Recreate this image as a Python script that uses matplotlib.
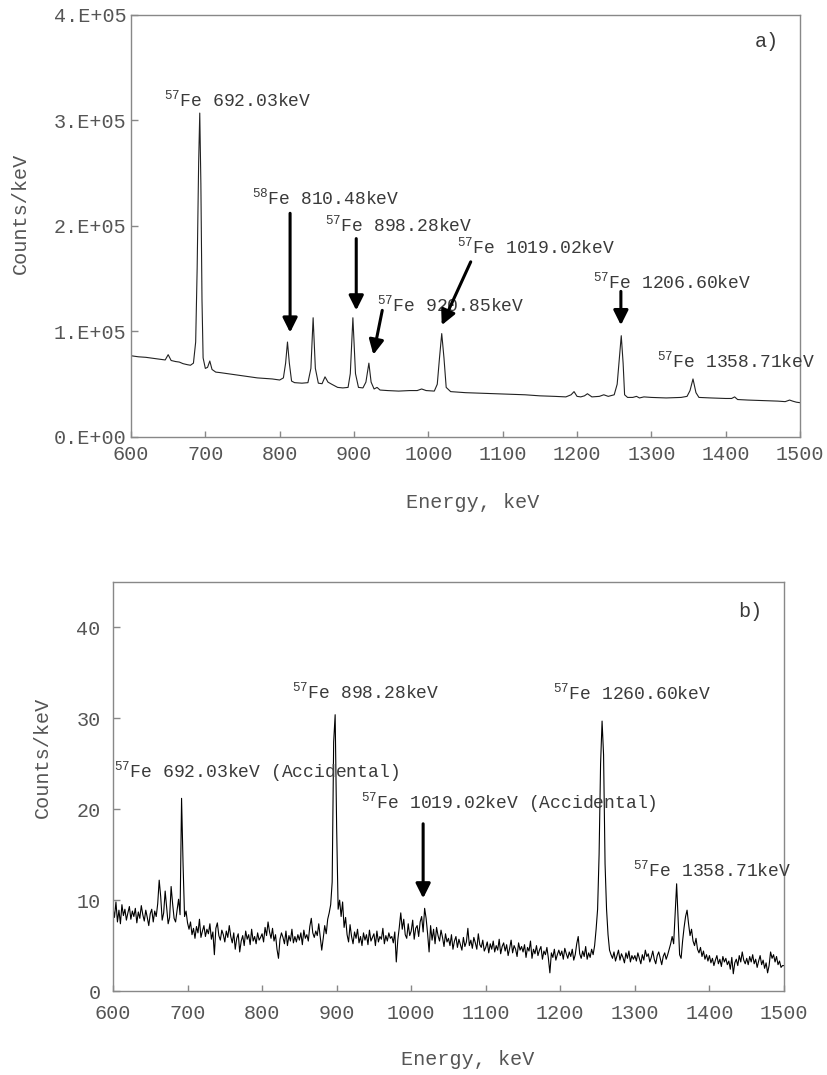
import numpy as np
import matplotlib
matplotlib.use("Agg")
import matplotlib.pyplot as plt

plt.rcParams['font.family'] = ['Liberation Mono', 'DejaVu Sans']
plt.rcParams['mathtext.fontset'] = 'custom'
plt.rcParams['mathtext.rm'] = 'Liberation Sans'

# ---- panel a: singles spectrum (energy keV, counts/keV) ----
a_energy = [600, 610, 620, 630, 640, 646, 650, 654, 660, 665, 670, 676, 680, 684, 687, 689, 691, 692.5,
            694, 695.5, 697, 700, 703, 706, 709, 714, 720, 730, 740, 750, 760, 770, 780, 790, 800, 805,
            808, 810.5, 813, 816, 820, 830, 838, 842, 845, 848, 852, 857, 861, 865, 870, 878, 885, 892,
            895, 898.5, 902, 906, 912, 916, 920, 923, 927, 931, 935, 945, 960, 975, 985, 991, 997, 1008,
            1012, 1015, 1018, 1021, 1024, 1030, 1050, 1070, 1090, 1110, 1130, 1150, 1170, 1185, 1192,
            1196, 1200, 1205, 1210, 1214, 1220, 1230, 1236, 1242, 1250, 1254, 1257, 1259.5, 1262, 1264,
            1268, 1275, 1280, 1284, 1290, 1300, 1320, 1340, 1348, 1352, 1356, 1360, 1364, 1380, 1400,
            1408, 1412, 1416, 1430, 1450, 1470, 1480, 1486, 1490, 1495, 1500]
a_counts = [77000, 76000, 75500, 74500, 73500, 73000, 78000, 72500, 71500, 71000, 69500, 68500, 68000,
            70000, 90000, 160000, 260000, 307000, 240000, 130000, 75000, 65000, 66000, 72000, 64000,
            61500, 61000, 60000, 59000, 58000, 57000, 56000, 55500, 55000, 54000, 56000, 70000, 90000,
            70000, 53000, 51500, 51000, 51500, 65000, 113000, 65000, 51000, 50500, 57000, 52000, 50000,
            47000, 46500, 47000, 60000, 113000, 60000, 47000, 46500, 52000, 70000, 52000, 45500, 47000,
            44500, 44000, 43500, 44000, 44000, 45500, 44000, 43500, 50000, 75000, 98000, 75000, 47000,
            43000, 42000, 41500, 41000, 40500, 40000, 39000, 38500, 38000, 40000, 43000, 38500, 38000,
            39000, 41000, 38000, 38500, 40000, 38500, 40000, 50000, 75000, 96000, 70000, 40000, 37500,
            37500, 38500, 37000, 38000, 37500, 37000, 37500, 38500, 44000, 55000, 42000, 37500, 37000,
            36500, 36500, 38000, 35500, 35000, 34500, 34000, 33500, 35000, 34000, 33000, 32500]

# ---- panel b: coincidence spectrum, 2 keV bins starting at 600 keV ----
b_start, b_step = 600, 2
b_counts = [
    9.2, 8.1, 9.8, 7.6, 8.9, 7.4, 9.5, 8.3, 9.0, 7.8, 8.6, 9.3, 7.9, 8.8, 8.2, 9.1, 7.5, 8.7, 8.0, 9.4, 8.4, 7.7, 8.9, 8.1, 7.2,
    8.5, 9.0, 7.6, 8.8, 8.2, 9.6, 12.2, 10.4, 7.8, 8.6, 11.0, 9.2, 7.4, 8.1, 11.5, 9.6, 8.0, 7.6, 8.9, 10.1, 8.4, 21.2, 14.0, 8.2, 8.8,
    7.5, 6.8, 7.6, 6.2, 6.9, 5.8, 7.1, 6.4, 7.9, 5.9, 6.6, 7.2, 6.0, 6.8, 6.3, 7.4, 5.7, 6.5, 4.0, 6.9, 7.5, 6.1, 5.6, 6.7, 6.2,
    5.4, 6.6, 5.9, 7.2, 6.0, 5.3, 6.4, 4.6, 5.8, 6.3, 4.3, 5.5, 6.1, 5.0, 6.6, 5.7, 6.2, 5.1, 6.8, 5.5, 6.0, 5.2, 6.4, 5.6, 5.9,
    6.3, 5.4, 7.0, 6.1, 7.6, 6.5, 5.8, 6.9, 5.5, 6.2, 4.6, 3.6, 5.7, 6.4, 5.9, 5.2, 6.6, 5.0, 6.1, 5.5, 6.8, 5.3, 6.0, 5.4, 6.2,
    5.6, 6.4, 5.1, 6.7, 5.8, 6.2, 5.5, 7.1, 8.0, 6.4, 5.9, 6.6, 6.1, 7.4, 6.0, 4.5, 5.8, 7.2, 6.3, 7.9, 8.6, 9.5, 12.0, 27.4, 30.4,
    18.0, 9.0, 10.0, 8.2, 9.8, 7.0, 8.1, 6.2, 5.4, 7.3, 6.0, 5.2, 6.5, 5.8, 6.8, 5.3, 6.0, 5.0, 6.4, 5.6, 6.2, 5.1, 6.7, 5.5, 5.9,
    6.3, 5.0, 6.6, 5.4, 6.0, 5.7, 6.9, 5.2, 6.1, 5.5, 6.4, 5.8, 6.0, 5.3, 6.5, 3.2, 5.6, 7.0, 8.6, 6.8, 7.9, 6.2, 5.8, 7.4, 6.1,
    6.6, 7.8, 5.7, 6.9, 7.2, 6.0, 7.6, 8.2, 6.5, 9.1, 8.0, 6.3, 4.3, 7.2, 5.6, 6.8, 5.2, 7.0, 6.1, 5.5, 6.7, 5.9, 4.9, 6.3, 5.4,
    5.8, 5.0, 6.2, 4.6, 5.5, 6.0, 4.8, 5.7, 5.1, 4.5, 5.9, 4.9, 5.4, 6.9, 5.0, 5.6, 4.7, 5.9, 5.3, 4.6, 6.3, 5.1, 4.8, 5.6, 4.4,
    4.8, 5.4, 4.2, 5.2, 4.6, 5.5, 4.3, 5.0, 4.5, 5.7, 4.1, 4.9, 5.3, 4.4, 5.1, 3.9, 4.7, 5.6, 4.2, 5.0, 4.6, 3.8, 5.3, 4.5, 4.9,
    4.3, 5.1, 3.7, 4.8, 4.4, 5.5, 3.6, 4.6, 4.1, 5.0, 3.9, 4.5, 4.9, 3.5, 4.4, 4.0, 4.8, 3.6, 2.0, 4.2, 3.7, 4.6, 3.4, 4.0, 4.5,
    3.9, 4.4, 3.5, 4.7, 4.1, 3.6, 4.3, 3.8, 4.6, 3.4, 4.0, 5.2, 6.0, 4.1, 3.6, 4.4, 3.8, 4.9, 3.5, 4.2, 3.7, 4.6, 4.0, 5.0, 6.8,
    9.0, 15.0, 25.0, 29.7, 26.0, 14.0, 9.0, 6.2, 4.5, 4.0, 3.6, 4.3, 3.3, 3.9, 4.5, 3.4, 4.1, 3.7, 3.1, 4.2, 3.6, 4.4, 3.2, 3.9, 3.5,
    3.9, 3.3, 4.2, 3.6, 3.0, 4.0, 3.4, 4.5, 3.8, 4.1, 3.2, 3.7, 4.4, 3.5, 3.0, 3.9, 4.3, 3.6, 2.9, 3.8, 4.2, 3.5, 4.0, 4.6, 5.2,
    6.0, 5.2, 8.5, 11.8, 8.0, 4.0, 3.6, 5.5, 7.0, 8.2, 8.9, 7.4, 6.1, 6.8, 5.5, 5.0, 5.8, 4.6, 4.2, 4.8, 3.8, 4.4, 3.5, 4.0, 3.3,
    3.9, 3.1, 3.6, 2.8, 3.4, 3.9, 3.0, 3.5, 2.7, 3.8, 3.2, 3.6, 2.9, 3.3, 2.4, 3.7, 1.9, 3.1, 3.5, 2.8, 3.9, 3.2, 4.3, 3.4, 3.0,
    3.6, 2.9, 3.8, 3.2, 4.0, 3.0, 3.5, 2.6, 3.3, 3.9, 2.9, 3.4, 2.5, 3.1, 2.0, 2.8, 4.3, 3.6, 4.0, 3.2, 3.8, 2.9, 3.3, 2.6, 2.8,
    2.8]
b_energy = b_start + b_step * np.arange(len(b_counts))

x_ticks = [600, 700, 800, 900, 1000, 1100, 1200, 1300, 1400, 1500]
a_yticks = [0, 100000, 200000, 300000, 400000]
a_ytick_labels = ['0.E+00', '1.E+05', '2.E+05', '3.E+05', '4.E+05']
b_yticks = [0, 10, 20, 30, 40]

# labels: (text, x, y) ; arrows: (x_from, y_from, x_to, y_to)
sup = r'$\mathregular{^{%s}}$'
a_labels = [(sup % '57' + 'Fe 692.03keV', 644, 313000),
            (sup % '58' + 'Fe 810.48keV', 763, 220000),
            (sup % '57' + 'Fe 898.28keV', 861, 195000),
            (sup % '57' + 'Fe 920.85keV', 931, 119000),
            (sup % '57' + 'Fe 1019.02keV', 1038, 174000),
            (sup % '57' + 'Fe 1206.60keV', 1221, 141000),
            (sup % '57' + 'Fe 1358.71keV', 1307, 66000)]
a_arrows = [(814, 212000, 814, 99000),
            (903, 188000, 903, 120000),
            (938, 120000, 926, 78000),
            (1057, 166000, 1018, 106000),
            (1259, 138000, 1259, 106000)]
b_labels = [(sup % '57' + 'Fe 692.03keV (Accidental)', 602, 23.5),
            (sup % '57' + 'Fe 898.28keV', 840, 32.2),
            (sup % '57' + 'Fe 1019.02keV (Accidental)', 932, 20.1),
            (sup % '57' + 'Fe 1260.60keV', 1190, 32.1),
            (sup % '57' + 'Fe 1358.71keV', 1297, 12.6)]
b_arrows = [(1016, 18.4, 1016, 10.2)]

fig = plt.figure(figsize=(8.27, 10.75), dpi=100)
ax_a = fig.add_axes([0.1584, 0.5935, 0.809, 0.3926])
ax_b = fig.add_axes([0.1366, 0.0781, 0.8114, 0.3805])

txt_col = '#555555'
ann_col = '#3a3a3a'


def style(ax, ypad):
    for s in ax.spines.values():
        s.set_color('#888888')
        s.set_linewidth(1.0)
    ax.set_xlim(600, 1500)
    ax.set_xticks(x_ticks)
    ax.tick_params(axis='x', direction='in', length=4, width=1, color='#888888',
                   labelsize=14.5, labelcolor=txt_col)
    ax.tick_params(axis='y', direction='in', length=5, width=1, color='#888888',
                   labelsize=14.5, labelcolor=txt_col, pad=ypad)


def draw_arrows(ax, arrows):
    for x0, y0, x1, y1 in arrows:
        ax.annotate('', xy=(x1, y1), xytext=(x0, y0),
                    arrowprops=dict(arrowstyle='-|>', color='black', lw=2.2,
                                    mutation_scale=22, shrinkA=0, shrinkB=0))


# panel a
ax_a.plot(a_energy, a_counts, color='#222222', lw=0.8)
style(ax_a, 3)
ax_a.tick_params(axis='x', pad=6)
ax_a.set_ylim(0, 400000)
ax_a.set_yticks(a_yticks)
ax_a.set_yticklabels(a_ytick_labels)
ax_a.set_ylabel('Counts/keV', fontsize=14.5, color=txt_col)
ax_a.yaxis.set_label_coords(-0.151, 0.53)
ax_a.set_xlabel('Energy, keV', fontsize=14.5, color=txt_col)
ax_a.xaxis.set_label_coords(0.51, -0.133)
for t, x, y in a_labels:
    ax_a.text(x, y, t, fontsize=13, color=ann_col, va='baseline', ha='left')
draw_arrows(ax_a, a_arrows)
ax_a.text(1439, 370000, 'a)', fontsize=14.5, color=ann_col, va='baseline')

# panel b
ax_b.plot(b_energy, b_counts, color='black', lw=0.8)
style(ax_b, 9)
ax_b.tick_params(axis='x', pad=9)
ax_b.set_ylim(0, 45)
ax_b.set_yticks(b_yticks)
ax_b.set_ylabel('Counts/keV', fontsize=14.5, color=txt_col)
ax_b.yaxis.set_label_coords(-0.091, 0.572)
ax_b.set_xlabel('Energy, keV', fontsize=14.5, color=txt_col)
ax_b.xaxis.set_label_coords(0.528, -0.144)
for t, x, y in b_labels:
    ax_b.text(x, y, t, fontsize=13, color=ann_col, va='baseline', ha='left')
draw_arrows(ax_b, b_arrows)
ax_b.text(1439, 41.1, 'b)', fontsize=14.5, color=ann_col, va='baseline')

fig.savefig('out.png', dpi=100)
